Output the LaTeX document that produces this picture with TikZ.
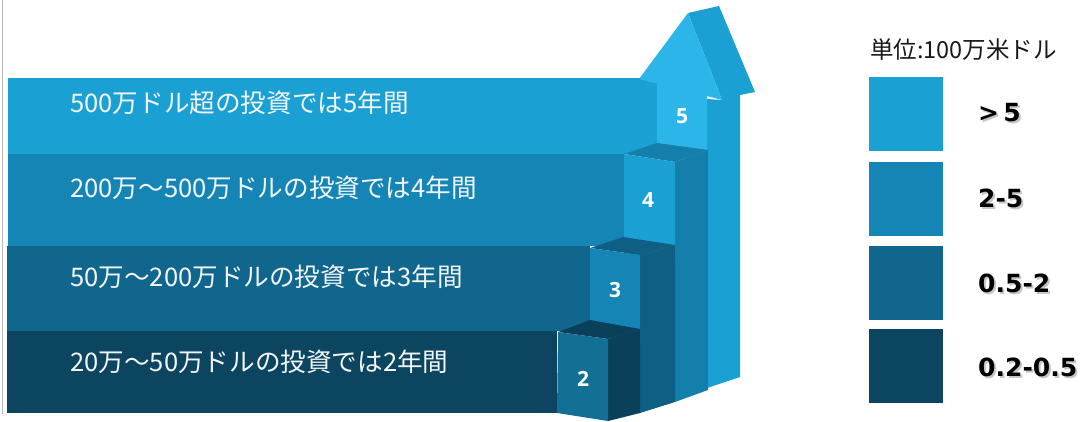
\documentclass[tikz,border=0pt]{standalone}
\usepackage{fontspec}
\newfontfamily\jpfont{Noto Sans CJK JP}
\newfontfamily\numfont{Open Sans}
\newfontfamily\legfont{DejaVu Sans}
\definecolor{cA}{HTML}{1AA0D2}
\definecolor{cB}{HTML}{1585B5}
\definecolor{cC}{HTML}{10668C}
\definecolor{cD}{HTML}{0C4560}
\definecolor{cL}{HTML}{2CB5E8}
\definecolor{cBs}{HTML}{147FAB}
\definecolor{cCs}{HTML}{0F5F84}
\definecolor{cCf}{HTML}{136F96}
\definecolor{cDs}{HTML}{0B405A}
\definecolor{txtw}{HTML}{F2F6F9}
\tikzset{
  bandtext/.style={anchor=west, inner sep=0pt, text=txtw, font=\jpfont\fontsize{25.6}{30}\selectfont},
  stepnum/.style={inner sep=0pt, text=white, font=\numfont\bfseries\fontsize{21}{24}\selectfont},
  legbox/.style={inner sep=0pt, minimum width=74pt, minimum height=74pt},
  leglabel/.style={anchor=west, inner sep=0pt, text=black, font=\legfont\bfseries\fontsize{25}{28}\selectfont},
  legshadow/.style={leglabel, text=black!40, opacity=0.55}
}
\begin{document}
\begin{tikzpicture}[x=1pt,y=-1pt]
\useasboundingbox (0,0) rectangle (1085,421);
\fill[white] (0,0) rectangle (1085,421);
% left gray rule
\draw[gray!55, line width=1pt] (2.5,0) -- (2.5,414);
% bands
\fill[cA] (8,78) rectangle (657,154);
\fill[cB] (8,154) rectangle (624,246);
\fill[cC] (7,246) rectangle (590,331);
\fill[cD] (7,331) rectangle (557,413);
% arrow (step 5)
\fill[cA] (688,13) -- (719,6) -- (755,92) -- (740,95) -- (740,377) -- (707,388) -- (707,99) -- (722,100) -- cycle;
\fill[cL] (639,79) -- (688,13) -- (722,100) -- (707,96) -- (707,160) -- (657,155) -- (657,83.5) -- cycle;
% step 4
\fill[cBs] (675,162) -- (708,150) -- (708,390) -- (675,402) -- cycle;
\fill[cBs] (624,154) -- (657,143) -- (708,150) -- (675,162) -- cycle;
\fill[cA] (624,154) -- (675,162) -- (675,262) -- (624,254) -- cycle;
% step 3
\fill[cCs] (640,255) -- (675,245) -- (675,402) -- (640,413) -- cycle;
\fill[cCs] (590,248) -- (623,237) -- (675,245) -- (640,255) -- cycle;
\fill[cB] (590,248) -- (640,255) -- (640,342) -- (590,335) -- cycle;
% step 2
\fill[cDs] (608,339) -- (640,329) -- (640,413) -- (608,421) -- cycle;
\fill[cDs] (558,332) -- (590,320) -- (640,329) -- (608,339) -- cycle;
\fill[cCf] (558,332) -- (608,339) -- (608,421) -- (557,413) -- cycle;
% band texts
\node[bandtext] (t1) at (70,103) {500万ドル超の投資では5年間};
\node[bandtext] (t2) at (70,188) {200万～500万ドルの投資では4年間};
\node[bandtext] (t3) at (70,277) {50万～200万ドルの投資では3年間};
\node[bandtext] (t4) at (70,362) {20万～50万ドルの投資では2年間};
% step numbers
\node[stepnum] (n5) at (682,116) {5};
\node[stepnum] (n4) at (648,200) {4};
\node[stepnum] (n3) at (615,290) {3};
\node[stepnum] (n2) at (583,379) {2};
% legend
\node[anchor=west, inner sep=0pt, text=black!90, font=\jpfont\fontsize{23.5}{27}\selectfont] (unit) at (870,50) {単位:100万米ドル};
\node[legbox, fill=cA] (l1) at (906,114) {};
\node[legbox, fill=cB] (l2) at (906,199) {};
\node[legbox, fill=cC] (l3) at (906,283) {};
\node[legbox, fill=cD] (l4) at (906,366) {};
\node[legshadow] (s1) at (980,115) {>\,5};
\node[legshadow] (s2) at (980,200) {2-5};
\node[legshadow] (s3) at (980,285) {0.5-2};
\node[legshadow] (s4) at (980,369) {0.2-0.5};
\node[leglabel] (g1) at (978,113) {>\,5};
\node[leglabel] (g2) at (978,198) {2-5};
\node[leglabel] (g3) at (978,283) {0.5-2};
\node[leglabel] (g4) at (978,367) {0.2-0.5};
\end{tikzpicture}
\end{document}
